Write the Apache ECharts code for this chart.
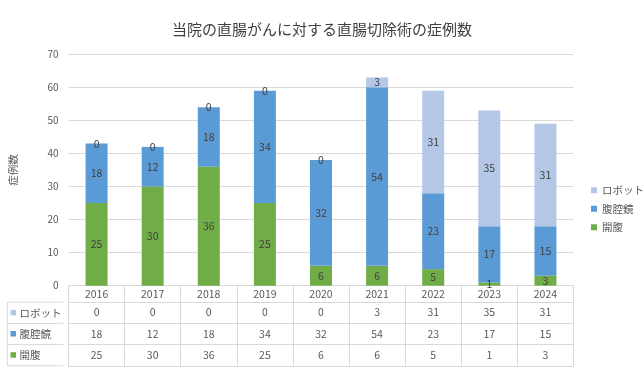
<!DOCTYPE html>
<html>
<head>
<meta charset="utf-8">
<script src="https://cdn.jsdelivr.net/npm/echarts@6/dist/echarts.min.js"></script>
<style>html,body{margin:0;padding:0;background:#fff;}#c{width:644px;height:378px;}</style>
</head>
<body>
<div id="c"></div>
<script>
const titleText = '当院の直腸がんに対する直腸切除術の症例数';
const yAxisName = '症例数';
const years = ['2016','2017','2018','2019','2020','2021','2022','2023','2024'];
const seriesNames = ['ロボット','腹腔鏡','開腹'];
const robot = [0,0,0,0,0,3,31,35,31];
const lap = [18,12,18,34,32,54,23,17,15];
const open = [25,30,36,25,6,6,5,1,3];
const yMin = 0, yMax = 70, yStep = 10;

const colors = {'ロボット':'#B4C7E7','腹腔鏡':'#5B9BD5','開腹':'#70AD47'};
const valuesByName = {'ロボット':robot,'腹腔鏡':lap,'開腹':open};
const FONT = 'Noto Sans CJK JP';
const GRID_L = 63.5, GRID_R = 644 - 573.5, GRID_T = 54.3, GRID_B = 378 - 285.7;
const HEAD_H = 16.5, ROW_H = 21.2;
const lineCol = '#D9D9D9', txtCol = '#595959';

function tableAxis(offset, tickLen, values, margin) {
  return {
    type: 'category', data: years, position: 'bottom', offset: offset, gridIndex: 0,
    axisLine: {show: true, lineStyle: {color: lineCol, width: 1}},
    axisTick: {show: tickLen > 0, length: tickLen, interval: 0, alignWithLabel: false, lineStyle: {color: lineCol, width: 1}},
    axisLabel: {show: margin !== null, interval: 0, margin: margin || 0, color: txtCol, fontSize: 10.5, fontFamily: FONT,
      formatter: (v, i) => values ? String(values[i]) : v},
    splitLine: {show: false}
  };
}

const xAxes = [tableAxis(0, HEAD_H, null, 3)];
seriesNames.forEach((n, k) => {
  xAxes.push(tableAxis(HEAD_H + ROW_H * k, ROW_H, valuesByName[n], 5));
});
xAxes.push(tableAxis(HEAD_H + ROW_H * 3, 0, null, null));

const stackOrder = ['開腹','腹腔鏡','ロボット'];
const series = stackOrder.map(n => ({
  name: n, type: 'bar', stack: 'total', xAxisIndex: 0, barWidth: 22,
  data: valuesByName[n],
  itemStyle: {color: colors[n]},
  label: {show: true, position: 'inside', color: '#404040', fontSize: 10.5, fontFamily: FONT}
}));

// left column of data table
const tableTop = 378 - GRID_B;
const leftX = 7.3;
const graphics = [];
for (let k = 0; k <= 3; k++) {
  const y = tableTop + HEAD_H + ROW_H * k;
  graphics.push({type: 'line', shape: {x1: leftX, y1: y, x2: GRID_L, y2: y}, style: {stroke: lineCol, lineWidth: 1}});
}
graphics.push({type: 'line', shape: {x1: leftX, y1: tableTop + HEAD_H, x2: leftX, y2: tableTop + HEAD_H + ROW_H * 3}, style: {stroke: lineCol, lineWidth: 1}});
seriesNames.forEach((n, k) => {
  const cy = tableTop + HEAD_H + ROW_H * k + ROW_H / 2;
  graphics.push({type: 'rect', shape: {x: 10.5, y: cy - 3, width: 5.5, height: 5.5}, style: {fill: colors[n]}});
  graphics.push({type: 'text', x: 19.5, y: cy, style: {text: n, fill: txtCol, font: '10.5px "' + FONT + '"', verticalAlign: 'middle', align: 'left'}});
});

const chart = echarts.init(document.getElementById('c'), null, {renderer: 'canvas'});
chart.setOption({
  animation: false,
  backgroundColor: '#fff',
  textStyle: {fontFamily: FONT},
  title: {text: titleText, left: 'center', top: 17, textStyle: {fontSize: 15, fontWeight: 'normal', color: '#404040', fontFamily: FONT}},
  legend: {
    data: seriesNames, orient: 'vertical', left: 586, top: 180,
    itemWidth: 6, itemHeight: 6, itemGap: 8, icon: 'rect',
    textStyle: {fontSize: 10.5, color: txtCol, fontFamily: FONT}
  },
  grid: {left: GRID_L, right: GRID_R, top: GRID_T, bottom: GRID_B, containLabel: false},
  xAxis: xAxes,
  yAxis: {
    type: 'value', min: yMin, max: yMax, interval: yStep,
    name: yAxisName, nameLocation: 'middle', nameGap: 50, nameRotate: 90,
    nameTextStyle: {fontSize: 10.5, color: txtCol, fontFamily: FONT},
    axisLine: {show: false}, axisTick: {show: false},
    axisLabel: {color: txtCol, fontSize: 10, margin: 10, fontFamily: FONT},
    splitLine: {lineStyle: {color: lineCol, width: 1}}
  },
  graphic: graphics,
  series: series
});
</script>
</body>
</html>
